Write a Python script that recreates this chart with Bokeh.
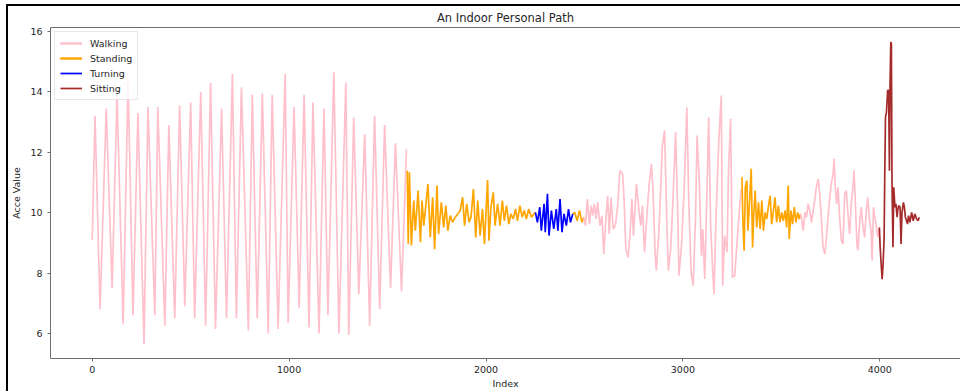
from bokeh.plotting import figure
from bokeh.models import Legend, LegendItem, FixedTicker, Range1d, LinearAxis
from bokeh.layouts import column
from bokeh.embed import file_html
from bokeh.resources import INLINE

TITLE = "An Indoor Personal Path"
X_LABEL = "Index"
Y_LABEL = "Acce Value"
X_TICKS = [0, 1000, 2000, 3000, 4000]
Y_TICKS = [6, 8, 10, 12, 14, 16]

ACTIVITIES = ["Walking", "Standing", "Turning", "Sitting"]
COLORS = {"Walking": "pink", "Standing": "orange", "Turning": "blue", "Sitting": "brown"}

# ---- Walking, first part ----
walk1_idx = [0, 14, 40, 71, 101, 126, 157, 182, 207, 232, 263, 283, 318, 333, 369, 389, 419, 444, 470, 500,
             520, 551, 576, 601, 626, 657, 682, 712, 732, 758, 793, 813, 838, 864, 894, 914, 944, 980, 995, 1025,
             1051, 1076, 1101, 1121, 1152, 1177, 1197, 1227, 1253, 1288, 1303, 1328, 1354, 1384, 1409, 1434, 1460,
             1485, 1515, 1540, 1571, 1596]
walk1_val = [9.1, 13.2, 6.8, 13.45, 7.5, 13.9, 6.3, 14.4, 6.6, 13.3, 5.65, 13.5, 6.6, 13.5, 6.25, 12.9, 6.5, 13.55,
             6.9, 13.65, 6.5, 14.0, 6.25, 14.3, 6.15, 13.45, 6.5, 14.6, 6.5, 14.15, 6.1, 13.9, 6.5, 13.95, 6.0, 13.9,
             6.15, 14.6, 6.35, 13.5, 6.85, 13.9, 6.2, 13.65, 6.0, 13.45, 6.6, 14.65, 6.0, 14.3, 5.95, 13.15, 7.3,
             12.6, 6.25, 13.2, 6.8, 12.9, 7.5, 12.3, 7.4, 12.1]

# ---- Standing, first part ----
stand1_idx = [1600, 1605, 1611, 1621, 1633, 1641, 1655, 1667, 1675, 1684, 1695, 1705, 1717, 1729, 1739, 1751, 1759,
              1773, 1785, 1796, 1806, 1818, 1830, 1844, 1857, 1869, 1881, 1891, 1902, 1914, 1924, 1936, 1948, 1958,
              1970, 1982, 1992, 2008, 2015, 2025, 2037, 2046, 2059, 2071, 2083, 2093, 2104, 2116, 2126, 2138, 2150,
              2160, 2172, 2184, 2194, 2205, 2217, 2231, 2244, 2251]
stand1_val = [11.39, 8.96, 11.34, 8.91, 10.40, 9.40, 10.73, 9.02, 10.40, 9.57, 10.29, 10.95, 9.18, 10.51, 8.79,
              10.90, 9.29, 10.34, 9.51, 10.23, 9.40, 9.90, 9.68, 9.85, 9.96, 10.07, 10.51, 9.57, 10.29, 9.68, 9.85,
              10.78, 9.18, 10.40, 9.24, 10.12, 8.96, 11.08, 9.07, 10.18, 10.67, 9.57, 10.29, 9.57, 10.40, 9.73,
              10.23, 9.62, 9.96, 9.79, 10.12, 9.73, 10.23, 9.85, 10.07, 9.79, 10.12, 9.85, 9.96, 10.01]

# ---- Turning ----
turn_idx = [2251, 2261, 2273, 2281, 2295, 2301, 2312, 2320, 2332, 2344, 2357, 2365, 2376, 2386, 2396, 2408, 2419,
            2429, 2441]
turn_val = [10.01, 9.68, 10.18, 9.40, 10.29, 9.35, 10.62, 9.24, 10.07, 9.46, 10.12, 9.40, 10.45, 9.35, 9.96, 9.57,
            10.12, 9.68, 9.96]

# ---- Standing, short part after turning ----
stand2_idx = [2441, 2450, 2463, 2475, 2487, 2497]
stand2_val = [9.96, 10.01, 9.73, 10.07, 9.68, 9.85]

# ---- Walking, second part ----
walk2_idx = [2497, 2505, 2515, 2525, 2534, 2542, 2550, 2559, 2567, 2579, 2589, 2598, 2609, 2618, 2626, 2635, 2646,
             2657, 2668, 2680, 2694, 2702, 2710, 2722, 2732, 2741, 2749, 2764, 2778, 2786, 2795, 2805, 2816, 2828,
             2840, 2848, 2859, 2865, 2879, 2896, 2907, 2917, 2926, 2938, 2949, 2963, 2973, 2980, 2993, 3007, 3020,
             3030, 3042, 3052, 3064, 3072, 3084, 3094, 3101, 3111, 3123, 3131, 3141, 3151, 3158, 3168, 3182, 3195,
             3202, 3212, 3224, 3232, 3242, 3252, 3263, 3274, 3286, 3296]
walk2_val = [9.85, 9.57, 10.45, 9.62, 10.23, 9.90, 10.29, 9.79, 10.34, 9.57, 9.90, 8.63, 9.79, 10.56, 9.29, 10.51,
             9.46, 9.57, 10.18, 11.39, 11.28, 10.34, 8.79, 8.52, 9.35, 10.45, 9.24, 10.95, 10.01, 9.57, 10.23, 8.68,
             9.79, 10.90, 11.61, 10.78, 8.63, 8.08, 9.46, 12.22, 12.72, 10.01, 8.08, 8.79, 10.34, 12.66, 10.23, 7.91,
             8.91, 10.90, 13.49, 10.34, 8.02, 7.58, 9.79, 12.55, 10.90, 8.57, 9.46, 7.80, 10.90, 13.16, 9.57, 8.13,
             7.30, 9.79, 12.33, 13.88, 7.58, 9.24, 8.68, 11.45, 13.11, 7.86, 7.91, 8.91, 10.01, 10.78]

# ---- Standing, third part ----
stand3_idx = [3300, 3305, 3311, 3317, 3325, 3330, 3337, 3347, 3354, 3360, 3367, 3375, 3384, 3392, 3401, 3409, 3418,
              3426, 3434, 3443, 3451, 3460, 3468, 3476, 3485, 3493, 3502, 3510, 3519, 3527, 3535, 3540, 3549, 3557,
              3566, 3574, 3583, 3591, 3598]
stand3_val = [11.17, 9.68, 8.74, 10.84, 11.06, 9.40, 10.18, 11.45, 8.85, 9.96, 10.73, 9.51, 10.34, 9.46, 10.40,
              9.40, 10.01, 9.79, 10.18, 10.56, 9.62, 10.07, 10.51, 9.68, 10.23, 9.68, 10.01, 9.73, 10.07, 9.51, 10.90,
              9.13, 10.07, 9.62, 10.18, 9.68, 10.01, 9.79, 9.96]

# ---- Walking, third part ----
walk3_idx = [3598, 3603, 3611, 3620, 3628, 3636, 3645, 3653, 3662, 3670, 3678, 3687, 3695, 3704, 3712, 3721, 3729,
             3737, 3746, 3754, 3763, 3768, 3774, 3781, 3788, 3796, 3805, 3813, 3822, 3830, 3838, 3847, 3855, 3864,
             3869, 3875, 3884, 3889, 3897, 3906, 3914, 3923, 3931, 3939, 3948, 3956, 3961, 3968, 3973, 3981, 3990,
             3998]
walk3_val = [9.96, 9.79, 9.40, 10.01, 9.85, 10.29, 10.07, 9.68, 10.07, 10.45, 10.84, 11.12, 10.62, 9.73, 8.85, 8.63,
             9.18, 9.85, 10.51, 10.95, 11.28, 11.78, 10.84, 10.29, 10.84, 9.85, 9.07, 8.96, 10.62, 10.73, 10.01, 9.29,
             10.29, 10.84, 11.39, 10.51, 8.96, 8.74, 9.62, 10.18, 9.57, 9.18, 10.01, 10.51, 9.73, 9.40, 8.41, 10.18,
             9.90, 9.62, 9.18, 9.51]

# ---- Sitting ----
sit_idx = [3998, 4002, 4007, 4012, 4017, 4022, 4025, 4029, 4034, 4040, 4045, 4049, 4052, 4056, 4059, 4062, 4067,
           4071, 4077, 4082, 4088, 4091, 4096, 4103, 4108, 4113, 4120, 4125, 4130, 4136, 4141, 4146, 4153, 4162,
           4170, 4178, 4187, 4195, 4200]
sit_val = [9.51, 8.85, 8.30, 7.80, 8.30, 9.18, 11.06, 13.16, 13.33, 14.05, 14.05, 11.39, 14.16, 15.65, 15.59, 11.06,
           8.85, 10.84, 10.18, 10.29, 9.85, 10.07, 10.23, 10.18, 8.96, 10.01, 10.34, 10.18, 9.85, 9.73, 9.62, 9.90,
           9.68, 10.01, 9.73, 9.96, 9.79, 9.73, 9.85]

SEGMENTS = [
    ("Walking", walk1_idx, walk1_val),
    ("Standing", stand1_idx, stand1_val),
    ("Turning", turn_idx, turn_val),
    ("Standing", stand2_idx, stand2_val),
    ("Walking", walk2_idx, walk2_val),
    ("Standing", stand3_idx, stand3_val),
    ("Walking", walk3_idx, walk3_val),
    ("Sitting", sit_idx, sit_val),
]

FONT = "DejaVu Sans"
TEXT = "#262626"
SPINE = "#6e6e6e"

p = figure(width=952, height=385, output_backend="svg", toolbar_location=None,
           x_range=Range1d(-212, 4410), y_range=Range1d(5.17, 16.13),
           min_border_left=40, min_border_right=0, min_border_top=21, min_border_bottom=33,
           background_fill_color="white", border_fill_color="white")

p.title.text = TITLE
p.title.align = "center"
p.title.text_font = FONT
p.title.text_font_size = "11.5px"
p.title.text_font_style = "normal"
p.title.text_color = TEXT
p.title.standoff = 5

p.outline_line_color = None
p.xgrid.visible = False
p.ygrid.visible = False

xax = p.below[0]
yax = p.left[0]

for ax in (xax, yax):
    ax.axis_line_color = SPINE
    ax.major_tick_line_color = SPINE
    ax.major_tick_in = 0
    ax.major_tick_out = 3
    ax.minor_tick_line_color = None
    ax.major_label_text_font = FONT
    ax.major_label_text_font_size = "9.5px"
    ax.major_label_text_color = TEXT
    ax.axis_label_text_font = FONT
    ax.axis_label_text_font_size = "9.5px"
    ax.axis_label_text_font_style = "normal"
    ax.axis_label_text_color = TEXT

xax.ticker = FixedTicker(ticks=X_TICKS)
yax.ticker = FixedTicker(ticks=Y_TICKS)
xax.axis_label = X_LABEL
yax.axis_label = Y_LABEL
xax.major_label_standoff = 4
xax.axis_label_standoff = 2
yax.major_label_standoff = 5
yax.axis_label_standoff = 5

# top spine (the right spine is cropped out of the reference picture)
top = LinearAxis(ticker=FixedTicker(ticks=[]), axis_line_color=SPINE, major_tick_line_color=None,
                 minor_tick_line_color=None, major_label_text_font_size="0px",
                 major_tick_out=0, major_tick_in=0, major_label_standoff=0)
p.add_layout(top, "above")

renderers = {name: [] for name in ACTIVITIES}
for name, xs, ys in SEGMENTS:
    r = p.line(xs, ys, line_color=COLORS[name], line_width=1.7)
    renderers[name].append(r)

legend = Legend(items=[LegendItem(label=n, renderers=renderers[n]) for n in ACTIVITIES],
                location="top_left")
legend.margin = 4
legend.padding = 5
legend.spacing = 3
legend.label_height = 12
legend.glyph_height = 12
legend.glyph_width = 22
legend.label_standoff = 8
legend.label_text_font = FONT
legend.label_text_font_size = "9.5px"
legend.label_text_color = TEXT
legend.border_line_color = "#d0d0d0"
legend.background_fill_alpha = 0.8
p.add_layout(legend)

layout = column(p, styles={"border-top": "2px solid black", "border-left": "2px solid black",
                           "margin-left": "6px", "margin-top": "4px"})

open("out.html", "w").write(file_html(layout, INLINE))
